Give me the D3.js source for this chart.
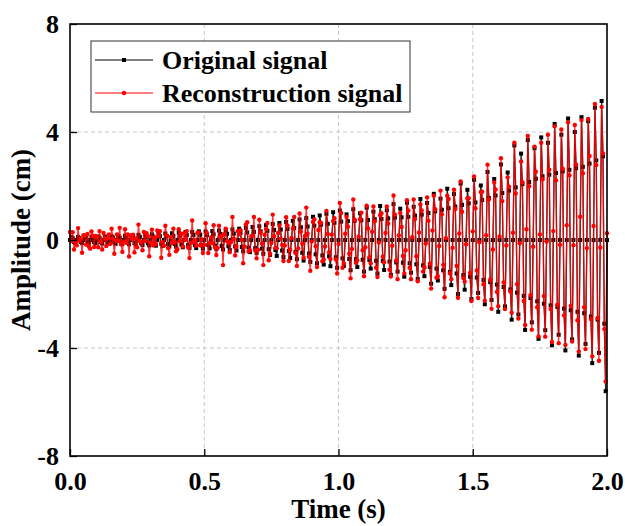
<!DOCTYPE html>
<html lang="en">
<head>
<meta charset="UTF-8">
<title>Original vs reconstruction signal</title>
<script src="https://d3js.org/d3.v7.min.js"></script>
<style>
  body { margin: 0; background: #fff; }
  svg text { font-family: "Liberation Serif", "Times New Roman", serif; font-weight: bold; fill: #000; }
</style>
</head>
<body>
<div id="chart"></div>
<script>
// sampling: 401 samples, 0.005 s apart (0 .. 2 s)
const sampleStep = 0.005;

// original signal (5 samples per cycle)
const original = [
  0,.11,.07,-.07,-.11, 0,.11,.07,-.07,-.11, 0,.12,.08,-.08,-.12, 0,.12,.08,-.08,-.12,
  0,.13,.08,-.08,-.13, 0,.13,.08,-.08,-.13, 0,.14,.09,-.09,-.14, 0,.15,.09,-.09,-.15,
  0,.16,.10,-.10,-.16, 0,.17,.11,-.11,-.17, 0,.19,.12,-.12,-.19, 0,.20,.12,-.12,-.20,
  0,.21,.13,-.13,-.21, 0,.22,.14,-.14,-.22, 0,.24,.15,-.15,-.24, 0,.25,.15,-.15,-.25,
  0,.27,.17,-.17,-.27, 0,.29,.18,-.18,-.29, 0,.30,.19,-.19,-.30, 0,.32,.20,-.20,-.32,
  0,.31,.19,-.19,-.31, 0,.33,.21,-.21,-.33, 0,.35,.22,-.22,-.35, 0,.37,.23,-.23,-.37,
  0,.39,.24,-.24,-.39, 0,.42,.26,-.26,-.42, 0,.45,.28,-.28,-.45, 0,.48,.30,-.30,-.48,
  0,.51,.32,-.32,-.51, 0,.55,.34,-.34,-.55, 0,.59,.37,-.37,-.59, 0,.63,.39,-.39,-.63,
  0,.67,.41,-.41,-.67, 0,.71,.44,-.44,-.71, 0,.76,.47,-.47,-.76, 0,.81,.50,-.50,-.81,
  0,.86,.53,-.53,-.86, 0,.91,.57,-.57,-.91, 0,.97,.60,-.60,-.97, 0,1.03,.64,-.64,-1.03,
  0,1.09,.68,-.68,-.96, 0,.95,.70,-.70,-1.12, 0,1.14,.71,-.71,-1.00, 0,.99,.73,-.73,-1.17,
  0,1.20,.74,-.74,-1.06, 0,1.05,.77,-.77,-1.24, 0,1.26,.78,-.78,-1.11, 0,1.10,.80,-.80,-1.29,
  0,1.33,.83,-.83,-1.17, 0,1.16,.84,-.84,-1.36, 0,1.38,.86,-.86,-1.21, 0,1.23,.90,-.90,-1.44,
  0,1.52,.94,-.94,-1.34, 0,1.37,1.00,-1.00,-1.62, 0,1.71,1.06,-1.06,-1.50, 0,1.53,1.12,-1.12,-1.81,
  0,1.90,1.18,-1.18,-1.67, 0,1.70,1.24,-1.24,-2.00, 0,2.09,1.30,-1.30,-1.84, 0,1.86,1.36,-1.36,-2.19,
  0,2.23,1.39,-1.39,-1.96, 0,2.02,1.48,-1.48,-2.38, 0,2.52,1.56,-1.56,-2.22, 0,2.26,1.65,-1.65,-2.66,
  0,2.80,1.74,-1.74,-2.46, 0,2.50,1.83,-1.83,-2.95, 0,3.50,1.95,-1.95,-2.76, 0,3.20,2.07,-2.07,-3.33,
  0,3.70,2.15,-2.15,-3.05, 0,3.40,2.27,-2.27,-3.66, 0,3.80,2.36,-2.36,-3.34, 0,3.60,2.42,-2.42,-3.90,
  0,4.30,2.48,-2.48,-3.51, 0,3.90,2.54,-2.54,-4.09, 0,4.50,2.60,-2.60,-3.68, 0,4.00,2.66,-2.66,-4.28,
  0,4.55,2.71,-2.71,-3.85, 0,4.40,2.83,-2.83,-4.56, 0,4.90,2.95,-2.95,-4.18, 0,5.15,3.10,-3.10,-5.60,
  0
];

// reconstructed signal
const reconstruction = [
  .30,-.04,.29,-.35,-.06, -.20,.44,-.03,.05,-.47, .18,.17,-.17,.22,-.24, -.32,.32,.16,-.26,.15,
  .10,-.27,.33,-.06,-.35, .26,.05,-.22,.07,.21, -.14,.42,.04,-.51,-.03, .21,-.03,.45,-.16,-.44,
  -.05,.40,-.10,.21,-.61, .16,.05,.20,-.46,.06, -.27,.57,-.04,-.08,-.38, .30,-.04,.25,.14,-.60,
  -.09,.38,-.20,.09,-.15, .35,.16,.33,-.66,-.08, -.21,.53,.17,-.30,-.55, .11,-.11,.42,-.07,-.42,
  -.34,.40,-.05,.23,-.24, .24,.01,.33,-.28,-.67, -.12,.72,-.07,-.01,-.21, .27,.28,-.19,.03,-.48,
  -.18,.62,.26,-.48,-.11, .09,-.12,.55,-.27,-.56, -.30,.53,.11,.15,-.93, .22,.42,-.04,-.10,-.45,
  -.07,.85,.05,-.57,-.24, .33,.21,.36,.00,-.86, -.25,.57,.66,-.43,-.38, .14,.16,.85,-.39,-.68,
  -.36,.75,.27,-.13,-.93, .19,.41,.63,-.75,-.51, -.11,.94,.14,-.29,-.31, .26,.54,.05,-.18,-.78,
  -.20,.84,.53,-.78,-.36, .08,.43,.85,-.48,-.96, -.31,.98,.31,-.14,-.66, .15,1.20,.23,-.62,-1.14,
  -.06,.67,.77,-.23,-1.00, .37,.66,.63,-.79,-.73, -.24,1.08,.22,-.45,-.70, .20,.70,.81,-.72,-1.24,
  -.15,1.37,1.00,-1.03,-.87, .23,.85,.49,-.51,-1.42, -.33,1.50,.75,-.84,-.76, .12,.77,1.01,-.38,-1.34,
  -.27,1.27,.43,-.64,-.86, .31,1.24,.69,-1.03,-1.37, -.09,.92,.99,-.62,-.82, .26,1.24,.61,-1.10,-1.35,
  -.21,1.65,.94,-.76,-1.45, .17,1.00,.48,-.59,-1.24, -.38,1.47,1.09,-1.03,-1.45, .10,1.50,.78,-.60,-1.53,
  .28,1.32,1.09,-1.17,-1.01, -.13,1.58,.71,-.88,-1.80, .35,1.64,1.14,-1.40,-1.34, -.22,1.83,.95,-.92,-2.12,
  .07,1.64,1.52,-1.23,-1.45, -.29,1.86,1.15,-.96,-2.14, .24,2.17,1.05,-1.41,-1.54, -.16,1.55,1.55,-1.22,-2.26,
  .32,2.35,1.18,-1.13,-2.15, -.08,1.78,1.79,-1.64,-2.25, .18,2.79,1.50,-1.47,-2.55, -.35,2.13,1.87,-1.92,-2.45,
  .13,3.03,1.44,-1.57,-2.56, -.20,2.32,1.97,-1.91,-2.69, .27,3.60,1.72,-1.64,-2.91, -.12,2.91,2.14,-2.26,-3.15,
  .40,3.85,1.99,-2.04,-3.32, -.25,3.46,2.53,-2.49,-3.57, .21,3.60,2.25,-2.07,-3.58, -.06,3.90,2.60,-2.56,-3.78,
  .33,4.21,2.21,-2.40,-3.82, -.18,4.09,2.64,-2.79,-3.89, .55,4.36,2.40,-2.44,-3.76, -.19,4.26,2.79,-2.97,-4.13,
  .86,4.44,2.47,-2.49,-4.04, -.30,4.48,3.11,-2.93,-4.31, .52,5.04,2.78,-2.89,-4.47, -.28,4.93,3.21,-3.30,-5.24,
  .25
];

const xTicks = [0, 0.5, 1.0, 1.5, 2.0];
const yTicks = [-8, -4, 0, 4, 8];
const seriesNames = ["Original signal", "Reconstruction signal"];

const W = 625, H = 526;
const plotL = 70, plotR = 607, plotT = 24, plotB = 456;

const x = d3.scaleLinear().domain([0, 2]).range([plotL, plotR]);
const y = d3.scaleLinear().domain([-8, 8]).range([plotB, plotT]);

const svg = d3.select("#chart").append("svg")
  .attr("width", W).attr("height", H);

// dashed grid
const grid = svg.append("g").attr("stroke", "#c8c8c8").attr("stroke-width", 1)
  .attr("stroke-dasharray", "4,3");
grid.selectAll(".gx").data(xTicks.slice(1, -1)).join("line")
  .attr("x1", d => x(d)).attr("x2", d => x(d)).attr("y1", plotT).attr("y2", plotB);
grid.selectAll(".gy").data(yTicks.slice(1, -1)).join("line")
  .attr("x1", plotL).attr("x2", plotR).attr("y1", d => y(d)).attr("y2", d => y(d));

const orig = original.map((v, i) => [i * sampleStep, v]);
const recon = reconstruction.map((v, i) => [i * sampleStep, v]);

const line = d3.line().x(d => x(d[0])).y(d => y(d[1]));

// original signal: black line + square markers
svg.append("path").datum(orig)
  .attr("fill", "none").attr("stroke", "#222").attr("stroke-width", 1.3)
  .attr("d", line);
svg.append("g").selectAll("rect").data(orig).join("rect")
  .attr("x", d => x(d[0]) - 2).attr("y", d => y(d[1]) - 2)
  .attr("width", 4).attr("height", 4).attr("fill", "#000");

// reconstruction: red line + round markers
svg.append("path").datum(recon)
  .attr("fill", "none").attr("stroke", "#f00").attr("stroke-opacity", 0.8)
  .attr("stroke-width", 1.3)
  .attr("d", line);
svg.append("g").selectAll("circle").data(recon).join("circle")
  .attr("cx", d => x(d[0])).attr("cy", d => y(d[1]))
  .attr("r", 2.2).attr("fill", "#f00");

// axes
const xAxis = svg.append("g").attr("transform", `translate(0,${plotB})`)
  .call(d3.axisBottom(x).tickValues(xTicks).tickFormat(d3.format(".1f"))
    .tickSizeInner(-7).tickSizeOuter(0).tickPadding(16));
const yAxis = svg.append("g").attr("transform", `translate(${plotL},0)`)
  .call(d3.axisLeft(y).tickValues(yTicks).tickFormat(d => String(d))
    .tickSizeInner(-7).tickSizeOuter(0).tickPadding(11));
[xAxis, yAxis].forEach(g => {
  g.select(".domain").remove();
  g.selectAll(".tick line").attr("stroke", "#000").attr("stroke-width", 1.3);
  g.selectAll("text").style("font-size", "26px");
});

// frame
svg.append("rect")
  .attr("x", plotL).attr("y", plotT).attr("width", plotR - plotL).attr("height", plotB - plotT)
  .attr("fill", "none").attr("stroke", "#000").attr("stroke-width", 1.6);

// legend
const lg = svg.append("g");
lg.append("rect").attr("x", 91).attr("y", 41).attr("width", 319).attr("height", 71)
  .attr("fill", "#fff").attr("stroke", "#333").attr("stroke-width", 1);
const rows = [{ name: seriesNames[0], color: "#000", yy: 60, shape: "square" },
              { name: seriesNames[1], color: "#f00", yy: 93, shape: "circle" }];
rows.forEach(r => {
  lg.append("line").attr("x1", 95).attr("x2", 153).attr("y1", r.yy).attr("y2", r.yy)
    .attr("stroke", r.color).attr("stroke-width", 1);
  if (r.shape === "square") {
    lg.append("rect").attr("x", 122).attr("y", r.yy - 2).attr("width", 4).attr("height", 4).attr("fill", r.color);
  } else {
    lg.append("circle").attr("cx", 124).attr("cy", r.yy).attr("r", 2.2).attr("fill", r.color);
  }
  lg.append("text").attr("x", 162).attr("y", r.yy).attr("dy", "0.35em")
    .style("font-size", "26px").text(r.name);
});

// axis titles
svg.append("text").attr("x", (plotL + plotR) / 2).attr("y", 518)
  .attr("text-anchor", "middle").style("font-size", "27px").text("Time (s)");
svg.append("text").attr("transform", `translate(30,${(plotT + plotB) / 2}) rotate(-90)`)
  .attr("text-anchor", "middle").style("font-size", "27px").text("Amplitude (cm)");
</script>
</body>
</html>
